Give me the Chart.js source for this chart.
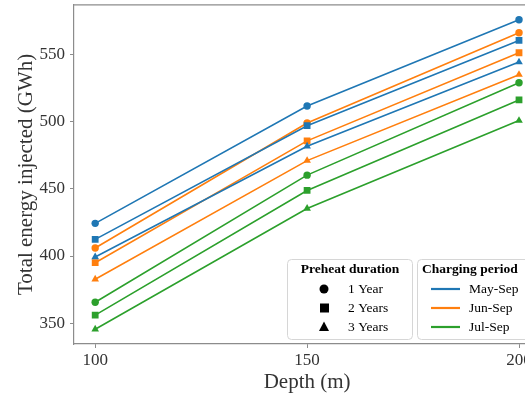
<!DOCTYPE html>
<html>
<head>
<meta charset="utf-8">
<script src="https://cdn.jsdelivr.net/npm/chart.js@4.4.1/dist/chart.umd.min.js"></script>
<style>
  html, body { margin: 0; padding: 0; background: #fff; overflow: hidden; }
  #wrap { width: 545px; height: 395px; }
</style>
</head>
<body>
<div id="wrap"><canvas id="energyChart" width="545" height="395"></canvas></div>
<script>
// depths on the x axis (m)
const depths = [100, 150, 200];
const yTicks = [350, 400, 450, 500, 550];

const periods = ['May-Sep', 'Jun-Sep', 'Jul-Sep'];
const durations = ['1 Year', '2 Years', '3 Years'];

// total energy injected (GWh), one array per period / preheat duration
const maySep1Year = [424.3, 511.7, 575.9];
const maySep2Years = [412.4, 497.0, 560.5];
const maySep3Years = [399.3, 481.7, 544.4];
const junSep1Year = [406.0, 499.0, 566.2];
const junSep2Years = [395.0, 485.7, 551.3];
const junSep3Years = [382.7, 471.0, 535.0];
const julSep1Year = [365.6, 460.2, 529.0];
const julSep2Years = [356.0, 448.8, 516.2];
const julSep3Years = [345.5, 435.4, 500.8];

const colors = ['#1f77b4', '#ff7f0e', '#2ca02c'];
const shapes = ['circle', 'rect', 'triangle'];
const radii = [3.7, 4.8, 4.4];
const seriesTable = [
    [maySep1Year, maySep2Years, maySep3Years],
    [junSep1Year, junSep2Years, junSep3Years],
    [julSep1Year, julSep2Years, julSep3Years]
];

const FONT = '"Liberation Serif", "Times New Roman", serif';

const datasets = [];
seriesTable.forEach((group, p) => {
    group.forEach((vals, d) => {
        datasets.push({
            label: periods[p] + ' ' + durations[d],
            data: vals.map((v, i) => ({ x: depths[i], y: v })),
            borderColor: colors[p],
            backgroundColor: colors[p],
            borderWidth: 1.6,
            pointStyle: shapes[d],
            pointRadius: radii[d],
            pointBorderWidth: 0,
            fill: false
        });
    });
});

// frame on top and two hand drawn legend boxes
const extras = {
    id: 'extras',
    afterDraw(chart) {
        const ctx = chart.ctx;
        const a = chart.chartArea;
        ctx.save();
        ctx.strokeStyle = '#8c8c8c';
        ctx.lineWidth = 1.2;
        ctx.beginPath();
        ctx.moveTo(a.left, a.top);
        ctx.lineTo(a.right, a.top);
        ctx.stroke();

        function box(x, y, w, h) {
            ctx.beginPath();
            ctx.roundRect(x, y, w, h, 4);
            ctx.fillStyle = 'rgba(255,255,255,0.85)';
            ctx.fill();
            ctx.strokeStyle = '#d6d6d6';
            ctx.lineWidth = 1;
            ctx.stroke();
        }

        const rows = [289, 308, 327];
        // preheat duration legend
        box(287.5, 259.5, 125, 80);
        ctx.fillStyle = '#000';
        ctx.textBaseline = 'middle';
        ctx.textAlign = 'center';
        ctx.font = 'bold 13.5px ' + FONT;
        ctx.fillText('Preheat duration', 350, 270);
        ctx.font = '13.5px ' + FONT;
        ctx.textAlign = 'left';
        durations.forEach((label, i) => {
            const y = rows[i];
            ctx.fillStyle = '#000';
            ctx.beginPath();
            if (shapes[i] === 'circle') {
                ctx.arc(324, y, 4.5, 0, Math.PI * 2);
            } else if (shapes[i] === 'rect') {
                ctx.rect(320, y - 4.5, 9, 9);
            } else {
                ctx.moveTo(324, y - 5.5);
                ctx.lineTo(329, y + 4);
                ctx.lineTo(319, y + 4);
                ctx.closePath();
            }
            ctx.fill();
            ctx.fillText(label, 348, y);
        });

        // charging period legend
        box(417.5, 259.5, 130, 80);
        ctx.fillStyle = '#000';
        ctx.textAlign = 'left';
        ctx.font = 'bold 13.5px ' + FONT;
        ctx.fillText('Charging period', 422, 270);
        ctx.font = '13.5px ' + FONT;
        periods.forEach((label, i) => {
            const y = rows[i];
            ctx.strokeStyle = colors[i];
            ctx.lineWidth = 2.2;
            ctx.beginPath();
            ctx.moveTo(431, y);
            ctx.lineTo(460, y);
            ctx.stroke();
            ctx.fillStyle = '#000';
            ctx.fillText(label, 469, y);
        });
        ctx.restore();
    }
};

new Chart(document.getElementById('energyChart').getContext('2d'), {
    type: 'line',
    data: { datasets: datasets },
    options: {
        responsive: false,
        animation: false,
        layout: { padding: { top: 4, right: 1, left: 0, bottom: 0 } },
        plugins: { legend: { display: false }, tooltip: { enabled: false } },
        scales: {
            x: {
                type: 'linear',
                min: 95,
                max: 205,
                afterBuildTicks: axis => { axis.ticks = depths.map(v => ({ value: v })); },
                afterFit: axis => {
                    axis.height = 51;
                    axis.paddingLeft = 0;
                    axis.paddingRight = 0;
                },
                border: { display: true, color: '#8c8c8c', width: 1.2 },
                grid: { display: true, drawOnChartArea: false, drawTicks: true, tickLength: 4, color: '#8c8c8c' },
                ticks: { color: '#333', font: { family: FONT, size: 17 }, padding: 2, maxRotation: 0 },
                title: { display: true, text: 'Depth (m)', color: '#333', font: { family: FONT, size: 21 }, padding: { top: 0, bottom: 0 } }
            },
            y: {
                type: 'linear',
                min: 334.5,
                max: 587,
                afterBuildTicks: axis => { axis.ticks = yTicks.map(v => ({ value: v })); },
                afterFit: axis => {
                    axis.width = 74;
                    axis.paddingTop = 0;
                    axis.paddingBottom = 0;
                },
                border: { display: true, color: '#8c8c8c', width: 1.2 },
                grid: { display: true, drawOnChartArea: false, drawTicks: true, tickLength: 4, color: '#8c8c8c' },
                ticks: { color: '#333', font: { family: FONT, size: 17 }, padding: 5 },
                title: { display: true, text: 'Total energy injected (GWh)', color: '#333', font: { family: FONT, size: 21 }, padding: { top: 14, bottom: 0 } }
            }
        }
    },
    plugins: [extras]
});
</script>
</body>
</html>
